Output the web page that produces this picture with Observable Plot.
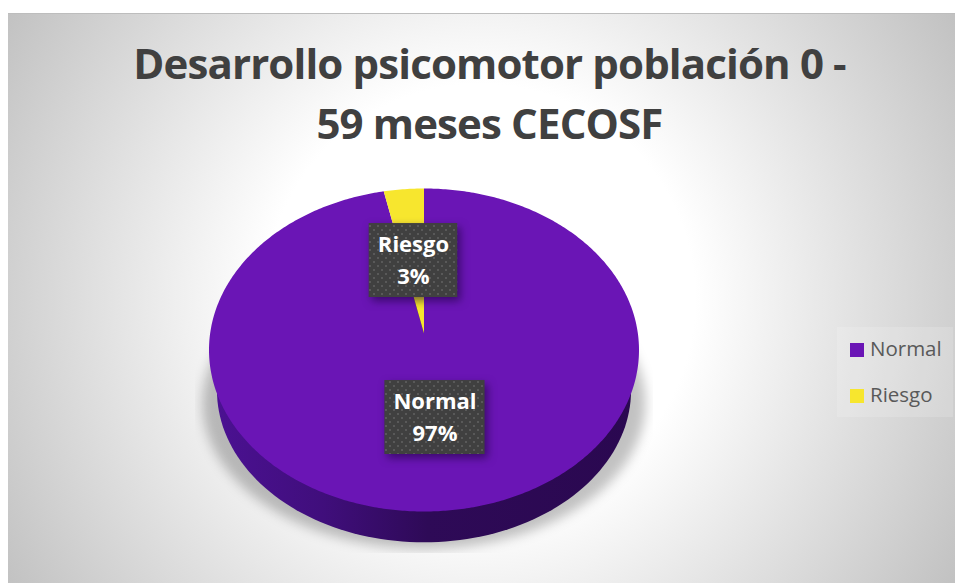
<!DOCTYPE html>
<html>
<head>
<meta charset="utf-8">
<script src="https://cdn.jsdelivr.net/npm/d3@7"></script>
<script src="https://cdn.jsdelivr.net/npm/@observablehq/plot@0.6"></script>
<style>
html,body{margin:0;padding:0;background:#fff;}
#stage{position:relative;width:955px;height:583px;overflow:hidden;}
#bg{position:absolute;left:8px;top:13px;width:947px;height:570px;border-top:1px solid #bdbdbd;box-sizing:border-box;
background:radial-gradient(circle 556px at 472px 285px,#fff 0px,#fff 215px,#c1c1c1 556px);}
#title{position:absolute;left:8px;width:963px;top:33px;text-align:center;font:700 42px/60px "Open Sans",sans-serif;color:#404040;letter-spacing:-.87px;}
#plot{position:absolute;left:0;top:0;}
#legend{position:absolute;left:837px;top:327px;width:116px;height:90px;background:rgba(255,255,255,.16);font:20.5px "Open Sans",sans-serif;color:#595959;}
#legend div{position:absolute;left:13px;height:24px;line-height:24px;white-space:nowrap;}
#legend i{display:inline-block;width:14px;height:14px;margin-right:6px;vertical-align:-1px;}
</style>
</head>
<body>
<div id="stage">
<div id="bg"></div>
<div id="title">Desarrollo psicomotor población 0 -<br>59 meses CECOSF</div>
<div id="plot"></div>
<div id="legend"></div>
</div>
<script>
const categories = ["Normal", "Riesgo"];
const shares = [97, 3];
const colors = ["#6a15b5", "#f7e62e"];
const labels = ["Normal\n97%", "Riesgo\n3%"];

// Layout in pie units (the top face is the unit circle)
const apexY = 0.102;
const labelBoxes = [
  {cx: 0.051, cy: -0.418, hw: 0.233, hh: 0.229},
  {cx: -0.049, cy: 0.554, hw: 0.206, hh: 0.229}
];
const wall = {cy: -0.25, rx: 0.963, ry: 0.941};
const shade = {cy: -0.33, rx: 1.03, ry: 0.9};

const ring = (o) => d3.range(0, 361, 2).map((deg) => {
  const a = deg * Math.PI / 180;
  return {x: o.rx * Math.sin(a), y: o.cy + o.ry * Math.cos(a)};
});

const arcs = d3.pie().sort(null)(shares);
const slices = arcs.flatMap((arc, i) => {
  const n = Math.max(2, Math.ceil((arc.endAngle - arc.startAngle) * 90));
  const pts = [{name: categories[i], x: 0, y: apexY}];
  for (let k = 0; k <= n; k++) {
    const a = arc.startAngle + (arc.endAngle - arc.startAngle) * k / n;
    pts.push({name: categories[i], x: Math.sin(a), y: Math.cos(a)});
  }
  return pts;
});
const boxes = categories.map((c, i) => ({name: c, text: labels[i], ...labelBoxes[i]}));

const defs = () => {
  const s = d3.create("svg:defs");
  const g = s.append("linearGradient").attr("id", "wallGrad").attr("gradientUnits", "userSpaceOnUse")
    .attr("x1", 215).attr("x2", 640).attr("y1", 0).attr("y2", 0);
  [[0, "#4b1192"], [0.25, "#400e7c"], [0.5, "#2e0a57"], [1, "#2a0850"]].forEach(([o, c]) =>
    g.append("stop").attr("offset", o).attr("stop-color", c));
  const p = s.append("pattern").attr("id", "dots").attr("patternUnits", "userSpaceOnUse")
    .attr("width", 8).attr("height", 8);
  p.append("rect").attr("width", 8).attr("height", 8).attr("fill", "#404040");
  p.append("rect").attr("x", 1).attr("y", 1).attr("width", 2).attr("height", 2).attr("fill", "#595959");
  p.append("rect").attr("x", 5).attr("y", 5).attr("width", 2).attr("height", 2).attr("fill", "#595959");
  return s.node();
};

const chart = Plot.plot({
  width: 955, height: 583,
  marginLeft: 195, marginRight: 302, marginTop: 340, marginBottom: 30,
  style: {background: "transparent", overflow: "visible"},
  x: {domain: [-1, 1], range: [208.5, 638.5], axis: null},
  y: {domain: [-1, 1], range: [511, 188], axis: null},
  color: {domain: categories, range: colors},
  marks: [
    defs,
    Plot.line(ring(shade), {x: "x", y: "y", fill: "#000", fillOpacity: 0.24, stroke: "none", imageFilter: "blur(6px)", clip: "frame"}),
    Plot.line(ring(wall), {x: "x", y: "y", fill: "url(#wallGrad)", stroke: "none"}),
    Plot.line(slices, {x: "x", y: "y", z: "name", fill: "name", stroke: "none"}),
    Plot.rect(boxes, {
      x1: (d) => d.cx - d.hw, x2: (d) => d.cx + d.hw,
      y1: (d) => d.cy - d.hh, y2: (d) => d.cy + d.hh,
      fill: "url(#dots)", inset: 0,
      imageFilter: "drop-shadow(3px 4px 4px rgba(20,0,50,.55))"
    }),
    Plot.text(boxes, {
      x: "cx", y: "cy", text: "text", fill: "#fff", lineHeight: 1.45, dy: -2.5,
      fontFamily: "Open Sans", fontWeight: 700, fontSize: 22
    })
  ]
});
document.getElementById("plot").appendChild(chart);

const legend = document.getElementById("legend");
categories.forEach((c, i) => {
  const row = document.createElement("div");
  row.style.top = (9 + i * 46) + "px";
  row.innerHTML = `<i style="background:${colors[i]}"></i>${c}`;
  legend.appendChild(row);
});
</script>
</body>
</html>
